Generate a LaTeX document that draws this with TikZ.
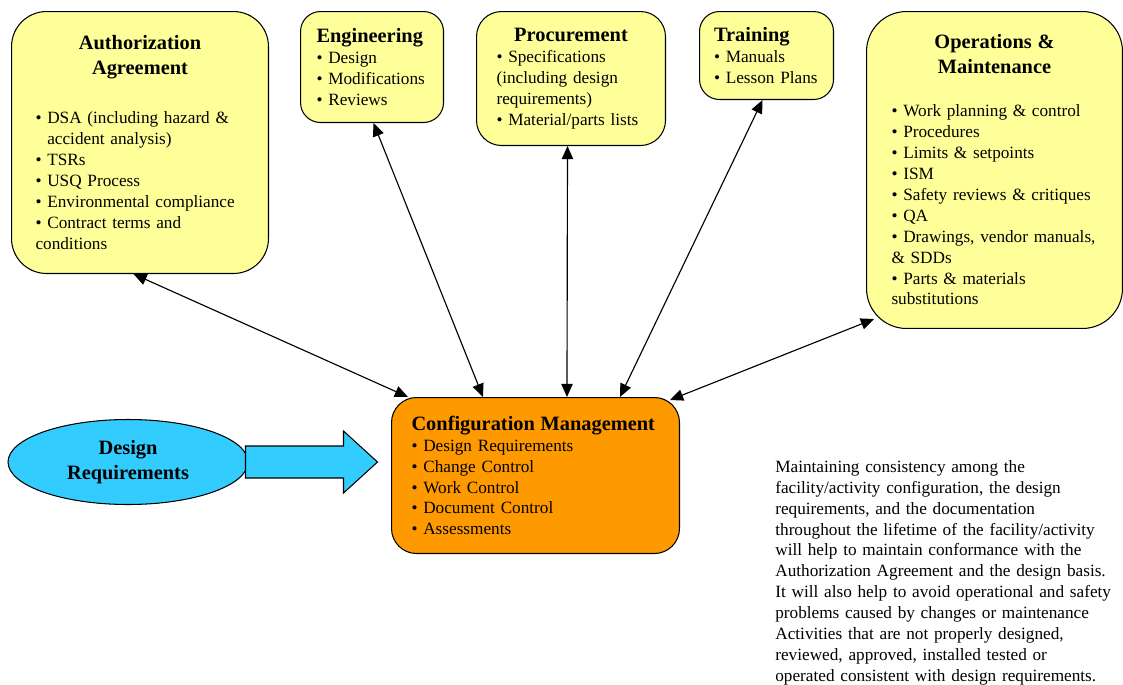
\documentclass[tikz,border=0pt]{standalone}
\usepackage{fontspec}
\setmainfont{Liberation Serif}
\usepackage{tikz}
\usetikzlibrary{arrows.meta,shapes.geometric}
\definecolor{boxyellow}{HTML}{FFFF99}
\definecolor{cmorange}{HTML}{FF9900}
\definecolor{drblue}{HTML}{33CCFF}
\newcommand{\bul}{\textbullet~}
\newcommand{\hd}[1]{{\centering\fontsize{11.6}{14.2}\selectfont\bfseries #1\par}}
\newcommand{\hdl}[1]{{\fontsize{11.6}{14.2}\selectfont\bfseries #1\par}}

\begin{document}
\begin{tikzpicture}[x=0.02cm, y=-0.02cm,
  topic/.style={draw, line width=0.6pt, fill=boxyellow, anchor=north west, inner ysep=0pt, align=left, font=\fontsize{9.8}{11.9}\selectfont},
  link/.style={{Triangle[length=7.5pt,width=6.5pt]}-{Triangle[length=7.5pt,width=6.5pt]}, line width=0.65pt}]
\useasboundingbox (0,0) rectangle (1123,684);
% top row
\node[topic, rounded corners=0.7cm, inner xsep=0.48cm, text width=4.18cm, minimum height=5.24cm] (auth) at (11,11)
  {\hd{Authorization\\Agreement}\vspace{0.56cm}
   \bul DSA (including hazard \&\\\phantom{\bul}accident analysis)\\\bul TSRs\\\bul USQ Process\\\bul Environmental compliance\\\bul Contract terms and\\conditions};
\node[topic, rounded corners=0.4cm, inner xsep=0.32cm, text width=2.22cm, minimum height=2.22cm] (eng) at (300,11)
  {\hdl{Engineering}\bul Design\\\bul Modifications\\\bul Reviews};
\node[topic, rounded corners=0.5cm, inner xsep=0.4cm, text width=2.98cm, minimum height=2.68cm] (proc) at (476,11)
  {\hd{Procurement}\bul Specifications\\(including design\\requirements)\\\bul Material/parts lists};
\node[topic, rounded corners=0.4cm, inner xsep=0.29cm, text width=2.1cm, minimum height=1.76cm] (train) at (699,11)
  {\hdl{Training}\bul Manuals\\\bul Lesson Plans};
\node[topic, rounded corners=0.8cm, inner xsep=0.5cm, text width=4.12cm, minimum height=6.34cm] (ops) at (866,11)
  {\hd{Operations \&\\Maintenance}\vspace{0.44cm}
   \bul Work planning \& control\\\bul Procedures\\\bul Limits \& setpoints\\\bul ISM\\\bul Safety reviews \& critiques\\\bul QA\\\bul Drawings, vendor manuals,\\\& SDDs\\\bul Parts \& materials\\substitutions};
% centre
\node[topic, fill=cmorange, rounded corners=0.5cm, inner xsep=0.4cm, text width=4.96cm, minimum height=3.12cm] (cm) at (391,397)
  {\hdl{Configuration Management}\bul Design Requirements\\\bul Change Control\\\bul Work Control\\\bul Document Control\\\bul Assessments};
\node[ellipse, draw, line width=0.6pt, fill=drblue, minimum width=4.8cm, minimum height=1.7cm, inner sep=0pt, align=center, font=\fontsize{11.6}{14.2}\selectfont\bfseries] (dr) at (128,462) {Design\\Requirements};
\draw[line width=0.6pt, fill=drblue] ([xshift=-0.06cm]dr.east) ++(0,-16) -- ++(98,0) -- ++(0,-15) -- ++(34,31) -- ++(-34,31) -- ++(0,-15) -- ++(-98,0) -- cycle;
% links
\draw[link] ([xshift=-0.13cm]auth.south) -- ([xshift=0.34cm]cm.north west);
\draw[link] ([xshift=0.03cm]eng.south) -- ([xshift=1.84cm]cm.north west);
\draw[link] ([xshift=-0.07cm]proc.south) -- ([xshift=3.52cm]cm.north west);
\draw[link] ([xshift=-0.08cm]train.south) -- ([xshift=4.58cm]cm.north west);
\draw[link] ([xshift=0.16cm,yshift=0.2cm]ops.south west) -- ([xshift=-0.2cm,yshift=-0.06cm]cm.north east);
% note
\node[anchor=north west, inner sep=0pt, text width=6.8cm, align=left, font=\fontsize{9.8}{11.9}\selectfont] (note) at (775,460)
  {Maintaining consistency among the\\
   facility/activity configuration, the design\\
   requirements, and the documentation\\
   throughout the lifetime of the facility/activity\\
   will help to maintain conformance with the\\
   Authorization Agreement and the design basis.\\
   It will also help to avoid operational and safety\\
   problems caused by changes or maintenance\\
   Activities that are not properly designed,\\
   reviewed, approved, installed tested or\\
   operated consistent with design requirements.};
\end{tikzpicture}
\end{document}
